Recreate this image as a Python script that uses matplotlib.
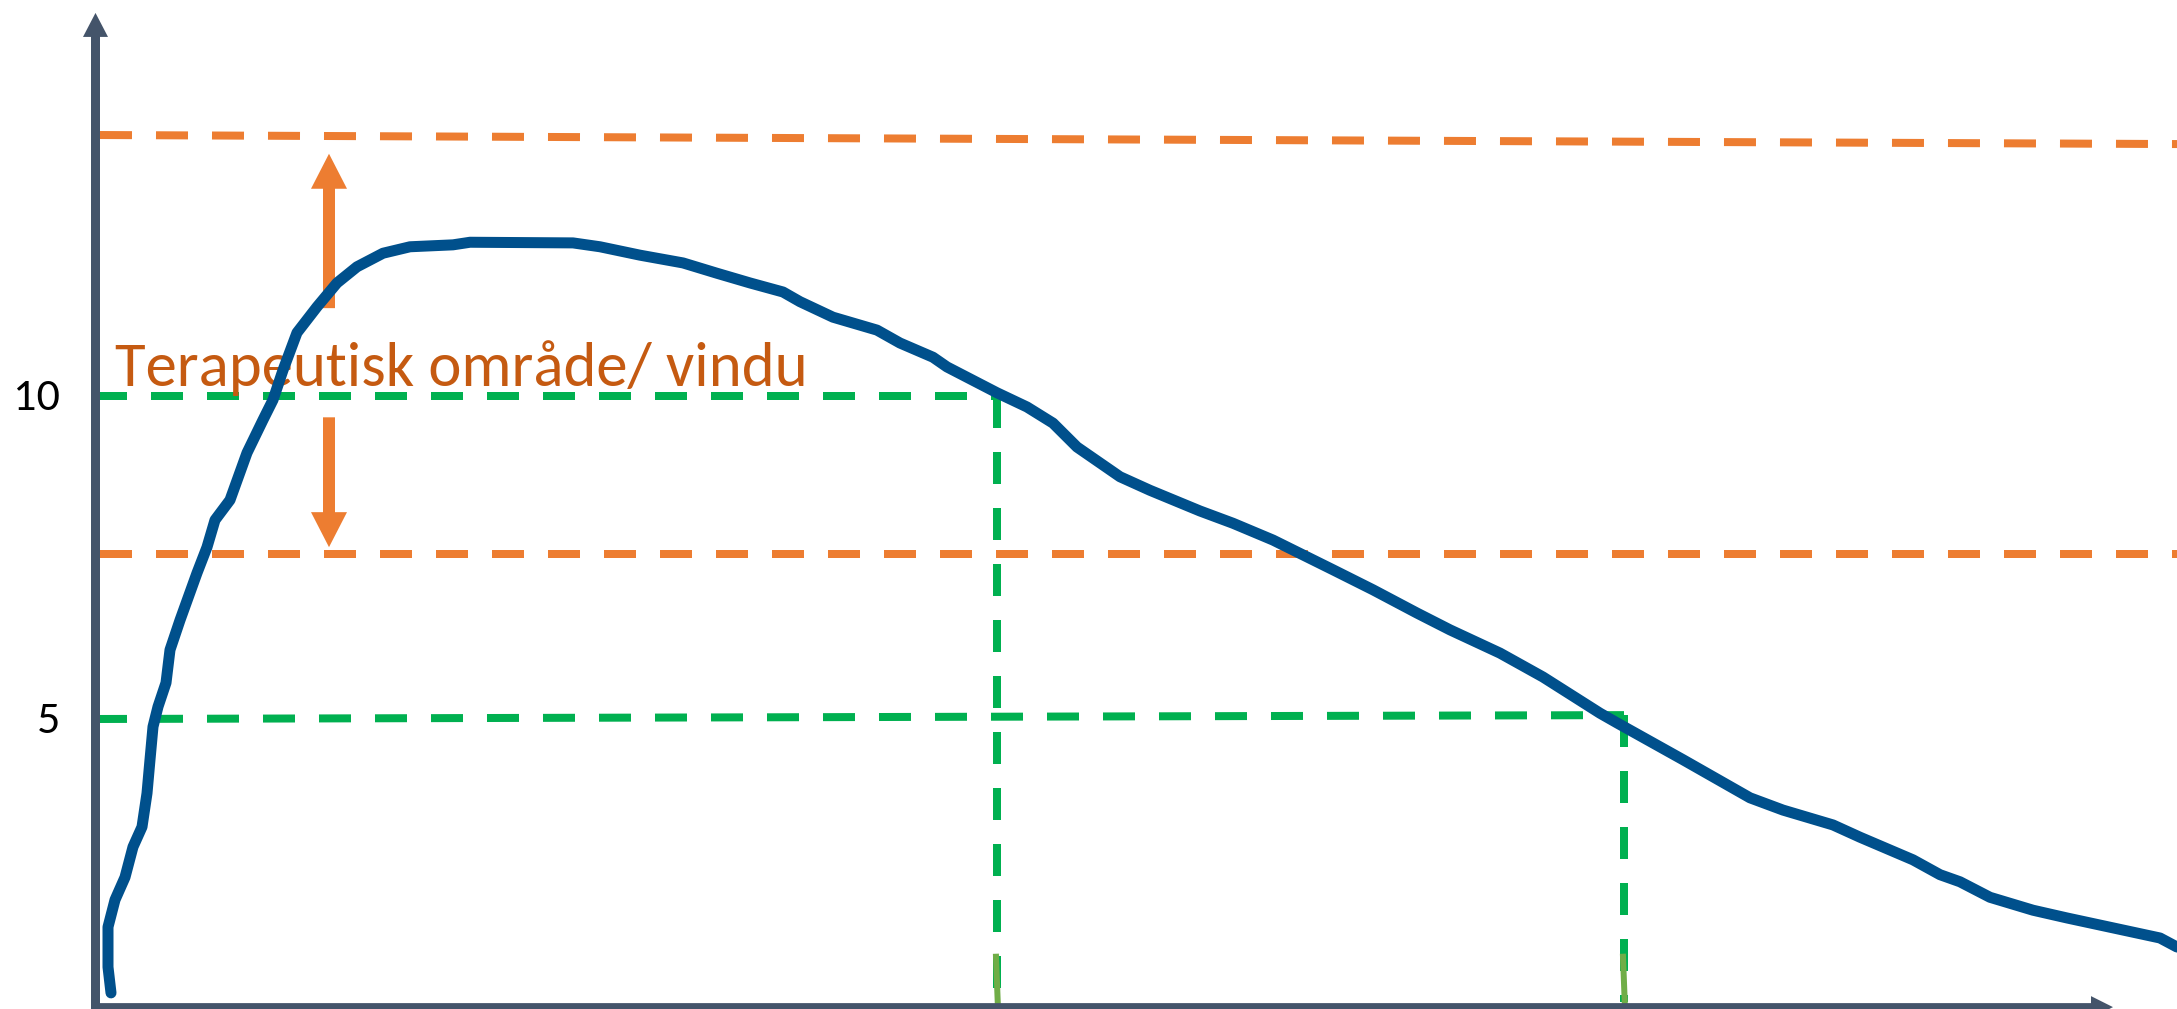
import matplotlib
matplotlib.use('Agg')
import matplotlib.pyplot as plt
from matplotlib.patches import FancyArrowPatch
from matplotlib import font_manager

# ---- data (time in arbitrary units, concentration) ----
tid = [0.17, 0.14, 0.14, 0.21, 0.31, 0.39, 0.48, 0.53, 0.56, 0.59, 0.64, 0.72,
       0.76, 0.86, 1.03, 1.13, 1.21, 1.36, 1.53, 1.69, 1.79, 1.89, 2.03, 2.23,
       2.43, 2.63, 2.89, 3.16, 3.59, 3.76, 4.79, 5.06, 5.46, 5.89, 6.23, 6.56,
       6.89, 7.06, 7.39, 7.83, 8.06, 8.39, 8.53, 9.03, 9.33, 9.59, 9.83, 10.26,
       10.56, 11.06, 11.39, 11.79, 12.39, 12.79, 13.23, 13.56, 14.06, 14.49,
       15.06, 15.23, 15.89, 16.56, 16.89, 17.39, 17.66, 18.19, 18.46, 18.66,
       18.96, 19.39, 19.73, 20.39, 20.66, 20.83]
konsentrasjon = [0.76, 1.16, 1.78, 2.20, 2.55, 3.02, 3.33, 3.85, 4.37, 4.88,
                 5.19, 5.56, 6.07, 6.53, 7.26, 7.66, 8.08, 8.39, 9.12, 9.63,
                 9.94, 10.40, 10.98, 11.38, 11.75, 12.00, 12.21, 12.31, 12.34,
                 12.38, 12.37, 12.31, 12.18, 12.06, 11.90, 11.75, 11.61, 11.46,
                 11.22, 11.02, 10.82, 10.60, 10.45, 10.05, 9.83, 9.58, 9.21,
                 8.75, 8.54, 8.22, 8.03, 7.77, 7.31, 7.00, 6.64, 6.38, 6.02,
                 5.65, 5.09, 4.94, 4.37, 3.78, 3.59, 3.36, 3.17, 2.82, 2.59,
                 2.48, 2.24, 2.04, 1.92, 1.70, 1.61, 1.47]

y_ticks = [10, 5]
y_tick_labels = ['10', '5']

ovre_grense_x = [0.06, 20.83]
ovre_grense_y = [14.04, 13.90]
nedre_grense = 7.55
terapeutisk_nivaa = [10.0, 5.0]
nivaa_hoyre = [10.0, 5.06]
tid_ved_nivaa = [9.03, 15.30]
etikett = 'Terapeutisk område/ vindu'

# ---- styles ----
BLUE = '#00508C'
ORANGE = '#ED7D31'
DARK_ORANGE = '#C55A11'
GREEN = '#00B050'
LIGHT_GREEN = '#70AD47'
AXIS = '#44546A'

available = {f.name for f in font_manager.fontManager.ttflist}
main_font = 'Lato'
for cand in ['Carlito', 'Liberation Sans Narrow', 'Roboto', 'Lato']:
    if cand in available:
        main_font = cand
        break
FONT = [main_font, 'DejaVu Sans']

W, H, DPI = 2177, 1009, 100
PX = 72.0 / DPI  # points per pixel
fig = plt.figure(figsize=(W / DPI, H / DPI), dpi=DPI)
ax = fig.add_axes([0, 0, 1, 1])
ax.set_xlim(-0.94, 20.83)
ax.set_ylim((1042 - 1009) / 64.6, 1042 / 64.6)
ax.axis('off')

LW_DASH = 8 * PX
LW_CURVE = 11 * PX
y_axis_x = 0.015
x_axis_y = 0.54
axis_bottom = 0.3

# dashed reference lines
ax.plot(ovre_grense_x, ovre_grense_y, color=ORANGE, lw=LW_DASH, dashes=(4, 3), zorder=2)
ax.plot([ovre_grense_x[0], ovre_grense_x[1]], [nedre_grense, nedre_grense],
        color=ORANGE, lw=LW_DASH, dashes=(4, 3), zorder=2)
for lvl, lvl_r, t in zip(terapeutisk_nivaa, nivaa_hoyre, tid_ved_nivaa):
    ax.plot([0.01, t], [lvl, lvl_r], color=GREEN, lw=LW_DASH, dashes=(4, 3), zorder=2)
    ax.plot([t, t], [lvl_r, 0.62], color=GREEN, lw=LW_DASH, dashes=(4, 3), zorder=2)
    ax.plot([t - 0.01, t + 0.01], [1.32, 0.51], color=LIGHT_GREEN, lw=6 * PX, zorder=2.5)

# axes with arrow heads
ax.add_patch(FancyArrowPatch((y_axis_x, axis_bottom), (y_axis_x, 15.93),
                             arrowstyle='simple,head_width=%.2f,head_length=%.2f,tail_width=%.2f'
                             % (25 * PX, 24 * PX, 9 * PX),
                             mutation_scale=1, color=AXIS, lw=0, shrinkA=0, shrinkB=0,
                             zorder=6))
ax.add_patch(FancyArrowPatch((y_axis_x - 0.045, x_axis_y), (20.19, x_axis_y),
                             arrowstyle='simple,head_width=%.2f,head_length=%.2f,tail_width=%.2f'
                             % (22 * PX, 22 * PX, 8 * PX),
                             mutation_scale=1, color=AXIS, lw=0, shrinkA=0, shrinkB=0,
                             zorder=6))

# orange up/down arrows marking the window
arr = 'simple,head_width=%.2f,head_length=%.2f,tail_width=%.2f' % (36 * PX, 35 * PX, 12 * PX)
ax.add_patch(FancyArrowPatch((2.35, 11.36), (2.35, 13.75), arrowstyle=arr,
                             mutation_scale=1, color=ORANGE, lw=0, shrinkA=0, shrinkB=0,
                             zorder=3))
ax.add_patch(FancyArrowPatch((2.35, 9.67), (2.35, 7.66), arrowstyle=arr,
                             mutation_scale=1, color=ORANGE, lw=0, shrinkA=0, shrinkB=0,
                             zorder=3))

# label text, sized to the reference width (691 px)
txt = ax.text(0.21, 10.155, etikett, fontsize=40, family=FONT, color=DARK_ORANGE,
              ha='left', va='baseline', zorder=4)
fig.canvas.draw()
bb = txt.get_window_extent()
fs = 40 * 691 / bb.width
txt.set_fontsize(fs)

# y tick labels, same face, scaled relative to the label
fs_tick = fs * 0.735
for v, lab in zip(y_ticks, y_tick_labels):
    ax.text(-0.34, v - 0.22, lab, fontsize=fs_tick, family=FONT, color='black',
            ha='right', va='baseline', zorder=4)

# concentration curve
ax.plot(tid, konsentrasjon, color=BLUE, lw=LW_CURVE, solid_capstyle='round',
        solid_joinstyle='round', zorder=5)

fig.savefig('out.png', dpi=DPI, facecolor='white')
